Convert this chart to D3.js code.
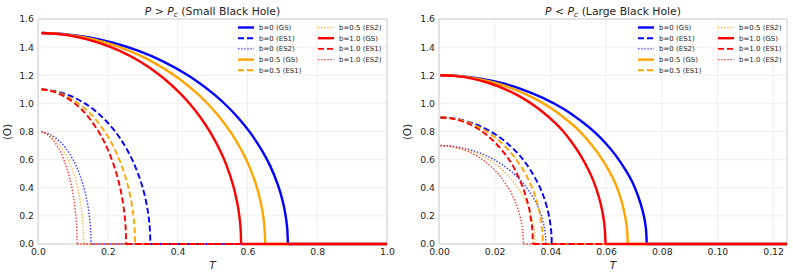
<!DOCTYPE html>
<html lang="en">
<head>
<meta charset="utf-8">
<title>Order parameter vs T</title>
<script src="https://d3js.org/d3.v7.min.js"></script>
<style>
  body { margin: 0; background: #fff; }
  text { font-family: "DejaVu Sans", sans-serif; fill: #262626; }
</style>
</head>
<body>
<div id="chart"></div>
<script>

// ---- data ----
// <O> values along each curve (same sampling for every b), O = 0 after the last point
var small_GS_O  = [1.5, 1.493, 1.470, 1.431, 1.375, 1.299, 1.2, 1.071, 0.992, 0.9, 0.790, 0.654, 0.552, 0.420, 0.299, 0.212, 0.116, 0];
var small_ES1_O = [1.1, 1.094, 1.078, 1.049, 1.008, 0.953, 0.88, 0.786, 0.728, 0.66, 0.579, 0.479, 0.405, 0.308, 0.219, 0.155, 0.085, 0];
var small_ES2_O = [0.8, 0.796, 0.784, 0.763, 0.733, 0.693, 0.64, 0.571, 0.529, 0.48, 0.421, 0.349, 0.294, 0.224, 0.159, 0.113, 0.062, 0];
var large_GS_O  = [1.2, 1.194, 1.176, 1.145, 1.100, 1.039, 0.96, 0.857, 0.794, 0.72, 0.632, 0.523, 0.442, 0.336, 0.239, 0.169, 0.093, 0];
var large_ES1_O = [0.9, 0.896, 0.882, 0.859, 0.825, 0.779, 0.72, 0.643, 0.595, 0.54, 0.474, 0.392, 0.331, 0.252, 0.179, 0.127, 0.069, 0];
var large_ES2_O = [0.7, 0.697, 0.686, 0.668, 0.642, 0.606, 0.56, 0.5, 0.463, 0.42, 0.369, 0.305, 0.258, 0.196, 0.139, 0.099, 0.054, 0];

// matching T values, P > Pc (small black hole)
var small_b0_GS_T   = [0.01, 0.0716, 0.1432, 0.2148, 0.2864, 0.358, 0.4296, 0.5012, 0.537, 0.5728, 0.6086, 0.6444, 0.6659, 0.6874, 0.7017, 0.7088, 0.7139, 0.716];
var small_b0_ES1_T  = [0.01, 0.0322, 0.0644, 0.0966, 0.1288, 0.161, 0.1932, 0.2254, 0.2415, 0.2576, 0.2737, 0.2898, 0.2995, 0.3091, 0.3156, 0.3188, 0.321, 0.322];
var small_b0_ES2_T  = [0.01, 0.0152, 0.0304, 0.0456, 0.0608, 0.076, 0.0912, 0.1064, 0.114, 0.1216, 0.1292, 0.1368, 0.1414, 0.1459, 0.149, 0.1505, 0.1515, 0.152];
var small_b05_GS_T  = [0.01, 0.0651, 0.1302, 0.1953, 0.2604, 0.3255, 0.3906, 0.4557, 0.4883, 0.5208, 0.5534, 0.5859, 0.6054, 0.625, 0.638, 0.6445, 0.649, 0.651];
var small_b05_ES1_T = [0.01, 0.0278, 0.0556, 0.0834, 0.1112, 0.139, 0.1668, 0.1946, 0.2085, 0.2224, 0.2363, 0.2502, 0.2585, 0.2669, 0.2724, 0.2752, 0.2772, 0.278];
var small_b05_ES2_T = [0.01, 0.0131, 0.0262, 0.0393, 0.0524, 0.0655, 0.0786, 0.0917, 0.0983, 0.1048, 0.1114, 0.1179, 0.1218, 0.1258, 0.1284, 0.1297, 0.1306, 0.131];
var small_b1_GS_T   = [0.01, 0.0582, 0.1164, 0.1746, 0.2328, 0.291, 0.3492, 0.4074, 0.4365, 0.4656, 0.4947, 0.5238, 0.5413, 0.5587, 0.5704, 0.5762, 0.5803, 0.582];
var small_b1_ES1_T  = [0.01, 0.0253, 0.0505, 0.0758, 0.101, 0.1263, 0.1515, 0.1768, 0.1894, 0.202, 0.2146, 0.2273, 0.2348, 0.2424, 0.2475, 0.25, 0.2517, 0.2525];
var small_b1_ES2_T  = [0.01, 0.0112, 0.0224, 0.0336, 0.0448, 0.056, 0.0672, 0.0784, 0.084, 0.0896, 0.0952, 0.1008, 0.1042, 0.1075, 0.1098, 0.1109, 0.1117, 0.112];

// matching T values, P < Pc (large black hole)
var large_b0_GS_T   = [0.0005, 0.0075, 0.0149, 0.0224, 0.0298, 0.0373, 0.0448, 0.0522, 0.056, 0.0597, 0.0634, 0.0671, 0.0694, 0.0716, 0.0731, 0.0739, 0.0744, 0.0746];
var large_b0_ES1_T  = [0.0005, 0.0041, 0.0081, 0.0122, 0.0162, 0.0203, 0.0243, 0.0284, 0.0304, 0.0324, 0.0344, 0.0365, 0.0377, 0.0389, 0.0397, 0.0401, 0.0404, 0.0405];
var large_b0_ES2_T  = [0.0005, 0.0038, 0.0077, 0.0115, 0.0154, 0.0192, 0.023, 0.0269, 0.0288, 0.0307, 0.0326, 0.0346, 0.0357, 0.0369, 0.0376, 0.038, 0.0383, 0.0384];
var large_b05_GS_T  = [0.0005, 0.0068, 0.0136, 0.0203, 0.0271, 0.0339, 0.0407, 0.0475, 0.0509, 0.0542, 0.0576, 0.061, 0.0631, 0.0651, 0.0664, 0.0671, 0.0676, 0.0678];
var large_b05_ES1_T = [0.0005, 0.0037, 0.0075, 0.0112, 0.0149, 0.0187, 0.0224, 0.0261, 0.028, 0.0298, 0.0317, 0.0336, 0.0347, 0.0358, 0.0366, 0.0369, 0.0372, 0.0373];
var large_b05_ES2_T = [0.0005, 0.0035, 0.0069, 0.0104, 0.0138, 0.0173, 0.0207, 0.0242, 0.0259, 0.0276, 0.0293, 0.0311, 0.0321, 0.0331, 0.0338, 0.0342, 0.0344, 0.0345];
var large_b1_GS_T   = [0.0005, 0.006, 0.012, 0.0179, 0.0239, 0.0299, 0.0359, 0.0419, 0.0449, 0.0478, 0.0508, 0.0538, 0.0556, 0.0574, 0.0586, 0.0592, 0.0596, 0.0598];
var large_b1_ES1_T  = [0.0005, 0.0034, 0.0067, 0.0101, 0.0135, 0.0169, 0.0202, 0.0236, 0.0253, 0.027, 0.0286, 0.0303, 0.0313, 0.0324, 0.033, 0.0334, 0.0336, 0.0337];
var large_b1_ES2_T  = [0.0005, 0.003, 0.0061, 0.0091, 0.0121, 0.0152, 0.0182, 0.0212, 0.0227, 0.0242, 0.0258, 0.0273, 0.0282, 0.0291, 0.0297, 0.03, 0.0302, 0.0303];

var b_values = ["0", "0.5", "1.0"];
var states = ["GS", "ES1", "ES2"];
var y_ticks = [0, 0.2, 0.4, 0.6, 0.8, 1.0, 1.2, 1.4, 1.6];
var small_x_ticks = [0, 0.2, 0.4, 0.6, 0.8, 1.0];
var large_x_ticks = [0, 0.02, 0.04, 0.06, 0.08, 0.10, 0.12];

// ---- styles ----
var colors = {"0": "blue", "0.5": "orange", "1.0": "red"};
var styles = {
  GS:  {width: 2.4, dash: null,      opacity: 1},
  ES1: {width: 1.9, dash: "6,3",     opacity: 1},
  ES2: {width: 1.4, dash: "1.5,1.6", opacity: 0.75}
};

var W = 793, H = 277, top_y = 19, bottom_y = 244;

var svg = d3.select("#chart").append("svg")
    .attr("width", W).attr("height", H);

var zip = (t, o) => t.map((d, i) => [d, o[i]]);

var panels = [
  {x0: 38, x1: 387, xmax: 1.0, xticks: small_x_ticks, fmt: ".1f", rel: " > ",
   name: " (Small Black Hole)", ylab_x: 7,
   curves: [zip(small_b0_GS_T, small_GS_O), zip(small_b0_ES1_T, small_ES1_O), zip(small_b0_ES2_T, small_ES2_O),
            zip(small_b05_GS_T, small_GS_O), zip(small_b05_ES1_T, small_ES1_O), zip(small_b05_ES2_T, small_ES2_O),
            zip(small_b1_GS_T, small_GS_O), zip(small_b1_ES1_T, small_ES1_O), zip(small_b1_ES2_T, small_ES2_O)]},
  {x0: 439, x1: 787, xmax: 0.125, xticks: large_x_ticks, fmt: ".2f", rel: " < ",
   name: " (Large Black Hole)", ylab_x: 407,
   curves: [zip(large_b0_GS_T, large_GS_O), zip(large_b0_ES1_T, large_ES1_O), zip(large_b0_ES2_T, large_ES2_O),
            zip(large_b05_GS_T, large_GS_O), zip(large_b05_ES1_T, large_ES1_O), zip(large_b05_ES2_T, large_ES2_O),
            zip(large_b1_GS_T, large_GS_O), zip(large_b1_ES1_T, large_ES1_O), zip(large_b1_ES2_T, large_ES2_O)]}
];

panels.forEach(function(p) {
  var x = d3.scaleLinear().domain([0, p.xmax]).range([p.x0, p.x1]);
  var y = d3.scaleLinear().domain([0, 1.6]).range([bottom_y, top_y]);
  var g = svg.append("g");

  // grid
  g.selectAll(".gx").data(p.xticks).enter().append("line")
      .attr("x1", d => x(d)).attr("x2", d => x(d))
      .attr("y1", top_y).attr("y2", bottom_y)
      .attr("stroke", "#ebebeb").attr("stroke-width", 0.8);
  g.selectAll(".gy").data(y_ticks).enter().append("line")
      .attr("x1", p.x0).attr("x2", p.x1)
      .attr("y1", d => y(d)).attr("y2", d => y(d))
      .attr("stroke", "#ebebeb").attr("stroke-width", 0.8);

  // frame (under the curves, so the O = 0 tails stay visible)
  g.append("rect").attr("x", p.x0).attr("y", top_y)
    .attr("width", p.x1 - p.x0).attr("height", bottom_y - top_y)
    .attr("fill", "none").attr("stroke", "#d0d0d0").attr("stroke-width", 1);

  // axes (labels only, seaborn-like)
  var ax = g.append("g").attr("transform", "translate(0," + bottom_y + ")")
      .call(d3.axisBottom(x).tickValues(p.xticks).tickFormat(d3.format(p.fmt)).tickSize(0).tickPadding(4));
  var ay = g.append("g").attr("transform", "translate(" + p.x0 + ",0)")
      .call(d3.axisLeft(y).tickValues(y_ticks).tickFormat(d3.format(".1f")).tickSize(0).tickPadding(4));
  [ax, ay].forEach(function(a) {
    a.select(".domain").remove();
    a.selectAll("text").attr("font-size", 9.3).attr("fill", "#333")
      .attr("font-family", "DejaVu Sans, sans-serif");
  });

  // curves, then the O = 0 tail up to the right edge
  var line = d3.line().x(d => x(d[0])).y(d => y(d[1])).curve(d3.curveCatmullRom.alpha(0.5));
  var i = 0;
  b_values.forEach(function(b) {
    states.forEach(function(s) {
      var pts = p.curves[i++];
      var st = styles[s];
      var last = pts[pts.length - 1];
      [line(pts), d3.line()([[x(last[0]), y(0)], [x(p.xmax), y(0)]])].forEach(function(dd) {
        g.append("path").attr("d", dd)
          .attr("fill", "none")
          .attr("stroke", colors[b])
          .attr("stroke-width", st.width)
          .attr("stroke-dasharray", st.dash)
          .attr("stroke-opacity", st.opacity);
      });
    });
  });

  // title
  var t = g.append("text").attr("x", (p.x0 + p.x1) / 2).attr("y", 15)
    .attr("text-anchor", "middle").attr("font-size", 10.8);
  t.append("tspan").attr("font-style", "italic").text("P");
  t.append("tspan").text(p.rel);
  t.append("tspan").attr("font-style", "italic").text("P");
  t.append("tspan").attr("font-style", "italic").attr("font-size", 7.6).attr("dy", 2).text("c");
  t.append("tspan").attr("dy", -2).text(p.name);

  // axis labels
  g.append("text").attr("x", (p.x0 + p.x1) / 2).attr("y", 269)
    .attr("text-anchor", "middle").attr("font-size", 10.5).attr("font-style", "italic").text("T");
  g.append("text").attr("transform", "translate(" + (p.ylab_x + 3.5) + ",132) rotate(-90)")
    .attr("text-anchor", "middle").attr("font-size", 10.5).text("\u27E8O\u27E9");

  // legend, two columns (5 + 4)
  var lx = p.x1 - 149;
  var k = 0;
  b_values.forEach(function(b) {
    states.forEach(function(s) {
      var col = k < 5 ? 0 : 1, row = k < 5 ? k : k - 5;
      var hx = lx + col * 80, hy = 27.5 + row * 10.7;
      var st = styles[s];
      g.append("line").attr("x1", hx).attr("x2", hx + 16)
        .attr("y1", hy).attr("y2", hy)
        .attr("stroke", colors[b]).attr("stroke-width", st.width)
        .attr("stroke-dasharray", st.dash).attr("stroke-opacity", st.opacity);
      g.append("text").attr("x", hx + 21).attr("y", hy + 2.5)
        .attr("font-size", 7).attr("fill", "#333")
        .text("b=" + b + " (" + s + ")");
      k++;
    });
  });
});

</script>
</body>
</html>
